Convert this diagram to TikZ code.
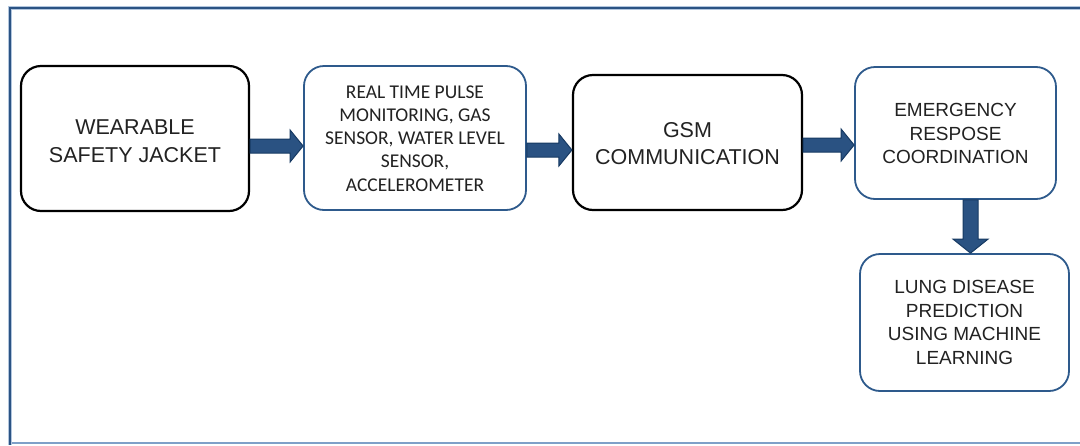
\documentclass[tikz,border=0pt]{standalone}
\usepackage{fontspec}
\setmainfont{Liberation Sans}
\newfontfamily\calib{Carlito}
\usetikzlibrary{calc}
\definecolor{arrfill}{HTML}{2A5282}
\definecolor{arrdraw}{HTML}{173A63}
\definecolor{boxblue}{HTML}{2E5A8C}
\definecolor{framedark}{HTML}{2B5384}
\definecolor{framelight}{HTML}{7FA0C8}
\definecolor{txt}{HTML}{222222}
\tikzset{
  blackbox/.style={draw=black, line width=2.2pt, rounded corners=20pt, align=center, text=txt, inner sep=0pt},
  bluebox/.style={draw=boxblue, line width=1.8pt, rounded corners=20pt, align=center, text=txt, inner sep=0pt},
  fatarr/.style={fill=arrfill, draw=arrdraw, line width=1pt, line join=miter},
}
\newcommand\harr[3]{%
  \path (#1.east |- 0,#3) coordinate (hs) (#2.west |- 0,#3) coordinate (he);
  \draw[fatarr] ([yshift=7pt]hs) -- ([xshift=-13pt,yshift=7pt]he) -- ([xshift=-13pt,yshift=16pt]he) -- (he)
    -- ([xshift=-13pt,yshift=-16pt]he) -- ([xshift=-13pt,yshift=-7pt]he) -- ([yshift=-7pt]hs) -- cycle;}
\begin{document}
\begin{tikzpicture}[x=1pt,y=-1pt]
\useasboundingbox (0,0) rectangle (1080,445);
\fill[white] (0,0) rectangle (1080,445);
% frame
\draw[framelight, line width=1.8pt] (10,443) -- (1080,443);
\draw[framelight!60, line width=4.5pt] (10,445) -- (10,8) -- (1080,8);
\draw[framedark, line width=2.6pt] (10,445) -- (10,8) -- (1080,8);
% boxes
\node[blackbox, minimum width=228pt, minimum height=145pt] (b1) at (135,138.5) {};
\node[text=txt, align=center, font=\fontsize{21.5}{28}\selectfont] at (135,141) {WEARABLE\\SAFETY JACKET};
\node[bluebox, minimum width=222pt, minimum height=144pt] (b2) at (415,138) {};
\node[text=txt, align=center, font=\calib\fontsize{19.5}{23.2}\selectfont] at (415,138.5) {REAL TIME PULSE\\MONITORING, GAS\\SENSOR, WATER LEVEL\\SENSOR,\\ACCELEROMETER};
\node[blackbox, minimum width=229pt, minimum height=135pt] (b3) at (687.5,142.5) {};
\node[text=txt, align=center, font=\fontsize{21.5}{27.5}\selectfont] at (687.5,143.5) {GSM\\COMMUNICATION};
\node[bluebox, minimum width=201pt, minimum height=132pt] (b4) at (955.5,133) {};
\node[text=txt, align=center, font=\fontsize{19}{23.5}\selectfont] at (955.5,133.5) {EMERGENCY\\RESPOSE\\COORDINATION};
\node[bluebox, minimum width=209pt, minimum height=137pt] (b5) at (964.5,322.5) {};
\node[text=txt, align=center, font=\fontsize{19}{23.5}\selectfont] at (964.5,322.5) {LUNG DISEASE\\PREDICTION\\USING MACHINE\\LEARNING};
% arrows
\harr{b1}{b2}{146}
\harr{b2}{b3}{150}
\harr{b3}{b4}{145}
\path (b4.south -| 970.5,0) coordinate (vs) (b5.north -| 970.5,0) coordinate (ve);
\draw[fatarr] ([xshift=-7.5pt]vs) -- ([xshift=-7.5pt,yshift=14pt]ve) -- ([xshift=-17.5pt,yshift=14pt]ve) -- (ve)
  -- ([xshift=17.5pt,yshift=14pt]ve) -- ([xshift=7.5pt,yshift=14pt]ve) -- ([xshift=7.5pt]vs) -- cycle;
\end{tikzpicture}
\end{document}
